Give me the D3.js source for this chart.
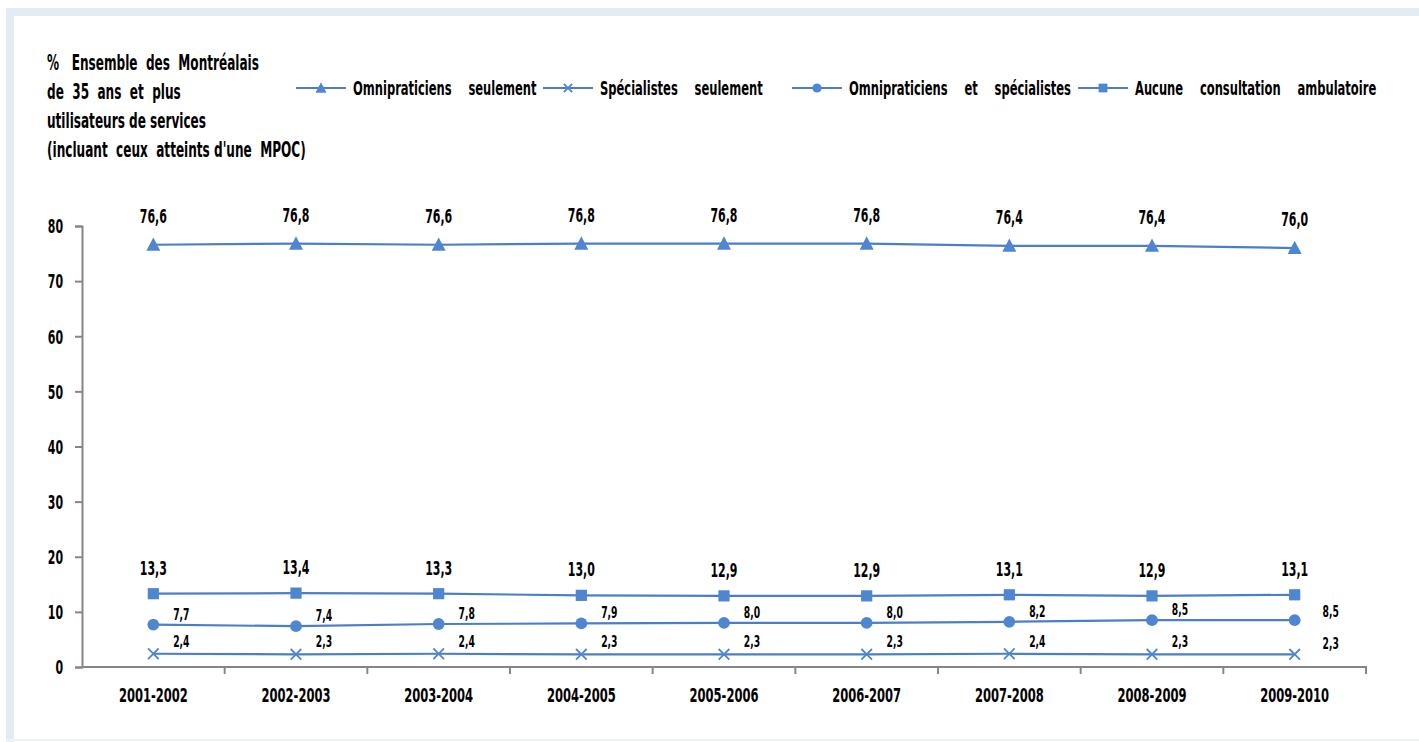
<!DOCTYPE html>
<html><head><meta charset="utf-8">
<script src="https://cdn.jsdelivr.net/npm/d3@7"></script>
<style>
body{margin:0;background:#fff;}
svg{display:block;}
svg text{font-family:"DejaVu Sans Condensed","DejaVu Sans",sans-serif;font-stretch:condensed;font-weight:bold;fill:#000;}
</style></head><body>
<svg id="c" width="1419" height="742"></svg>
<script>
const categories = ["2001-2002","2002-2003","2003-2004","2004-2005","2005-2006","2006-2007","2007-2008","2008-2009","2009-2010"];
const omniSeulement = [76.6,76.8,76.6,76.8,76.8,76.8,76.4,76.4,76.0];
const specSeulement = [2.4,2.3,2.4,2.3,2.3,2.3,2.4,2.3,2.3];
const omniEtSpec = [7.7,7.4,7.8,7.9,8.0,8.0,8.2,8.5,8.5];
const aucune = [13.3,13.4,13.3,13.0,12.9,12.9,13.1,12.9,13.1];
const yTicks = [0,10,20,30,40,50,60,70,80];
const titleLines = ["%   Ensemble  des  Montréalais","de  35  ans  et  plus","utilisateurs de services","(incluant  ceux  atteints d'une  MPOC)"];

const series = [
  {name:"Omnipraticiens seulement", values:omniSeulement, marker:"triangle", label:"above", dy:-22},
  {name:"Spécialistes seulement", values:specSeulement, marker:"x", label:"right", dy:-7},
  {name:"Omnipraticiens et spécialistes", values:omniEtSpec, marker:"circle", label:"right", dy:-5},
  {name:"Aucune consultation ambulatoire", values:aucune, marker:"square", label:"above", dy:-19}
];
const blue = "#4f86d0", lineCol = "#4a7fc8";
const K = 0.64; // horizontal condensation of the narrow reference typeface
const svg = d3.select("#c");

// frame
svg.append("rect").attr("x",6).attr("y",8).attr("width",1413).attr("height",8).attr("fill","#e3ebf5");
svg.append("rect").attr("x",6).attr("y",8).attr("width",8).attr("height",734).attr("fill","#e3ebf5");
svg.append("rect").attr("x",6).attr("y",739).attr("width",1413).attr("height",2).attr("fill","#eef1f5");

const x0 = 82, x1 = 1366, yTop = 226, yBot = 667;
const x = d3.scaleBand().domain(categories).range([x0,x1]);
const y = d3.scaleLinear().domain([0,80]).range([yBot,yTop]);
const cx = d => x(d) + x.bandwidth()/2;
const fmt = v => d3.format(".1f")(v).replace(".",",");

// axes
const ya = svg.append("g").attr("transform",`translate(${x0},0)`)
  .call(d3.axisLeft(y).tickValues(yTicks).tickSize(7).tickPadding(12).tickFormat(d3.format("d")));
ya.selectAll("text").attr("font-size",19).attr("dy","0.36em");
const xa = svg.append("g").attr("transform",`translate(0,${yBot})`)
  .call(d3.axisBottom(x).tickSize(0).tickPadding(21));
xa.selectAll("text").attr("font-size",20).attr("dy","0.71em");
[ya,xa].forEach(g=>{
  g.attr("font-family",null).attr("font-size",null);
  g.select(".domain").attr("stroke","#868686").attr("stroke-width",2);
  g.selectAll(".tick line").attr("stroke","#868686").attr("stroke-width",2);
});
xa.select(".domain").attr("d",`M${x0},0H${x1}V7`);
xa.selectAll("line.bnd").data(categories.slice(1)).enter().append("line").attr("class","bnd")
  .attr("x1",d=>x(d)).attr("x2",d=>x(d)).attr("y1",0).attr("y2",7)
  .attr("stroke","#868686").attr("stroke-width",2);

function drawMarker(g, type, px, py, s){
  if(type==="triangle"){
    const h = s*0.95, w = s;
    g.append("path").attr("d",`M${px},${py-h*0.55}L${px+w/2},${py+h*0.45}L${px-w/2},${py+h*0.45}Z`).attr("fill",blue);
  } else if(type==="circle"){
    g.append("circle").attr("cx",px).attr("cy",py).attr("r",s*0.42).attr("fill",blue);
  } else if(type==="square"){
    g.append("rect").attr("x",px-s*0.4).attr("y",py-s*0.4).attr("width",s*0.8).attr("height",s*0.8).attr("fill",blue);
  } else {
    const h = s*0.38;
    g.append("path").attr("d",`M${px-h},${py-h}L${px+h},${py+h}M${px-h},${py+h}L${px+h},${py-h}`)
      .attr("stroke",blue).attr("stroke-width",1.8).attr("fill","none");
  }
}

const line = d3.line().x((d,i)=>cx(categories[i])).y(d=>y(d));
series.forEach(s=>{
  const g = svg.append("g");
  g.append("path").datum(s.values).attr("d",line).attr("fill","none").attr("stroke",lineCol).attr("stroke-width",2.2);
  s.values.forEach((v,i)=>{
    const px = cx(categories[i]), py = y(v);
    drawMarker(g, s.marker, px, py, 14);
    if(s.label==="above"){
      g.append("text").attr("x",px).attr("y",py+s.dy).attr("text-anchor","middle")
        .attr("font-size",19).text(fmt(v));
    } else {
      const last = i===s.values.length-1;
      g.append("text").attr("x",px+(last?36:28)).attr("y",py+s.dy+(last?2:0)).attr("text-anchor","middle")
        .attr("font-size",16).text(fmt(v));
    }
  });
});

// title
svg.append("g").selectAll("text").data(titleLines).enter().append("text")
  .attr("x",47).attr("y",(d,i)=>70+i*29).attr("font-size",21)
  .attr("style","white-space:pre").text(d=>d);

// legend
const legendX = [296,543,792,1078];
const lg = svg.append("g");
series.forEach((s,i)=>{
  const lx = legendX[i], ly = 88;
  lg.append("line").attr("x1",lx).attr("x2",lx+50).attr("y1",ly).attr("y2",ly).attr("stroke",lineCol).attr("stroke-width",2);
  drawMarker(lg, s.marker, lx+25, ly, 11);
  lg.append("text").attr("x",lx+57).attr("y",ly+7).attr("font-size",20)
    .attr("word-spacing",20).text(s.name);
});

// condense every text horizontally about its anchor x
svg.selectAll("text").each(function(){
  const t = d3.select(this);
  const ax = +(t.attr("x")||0);
  t.attr("transform",`translate(${ax*(1-K)},0) scale(${K},1)`);
});
</script></body></html>
